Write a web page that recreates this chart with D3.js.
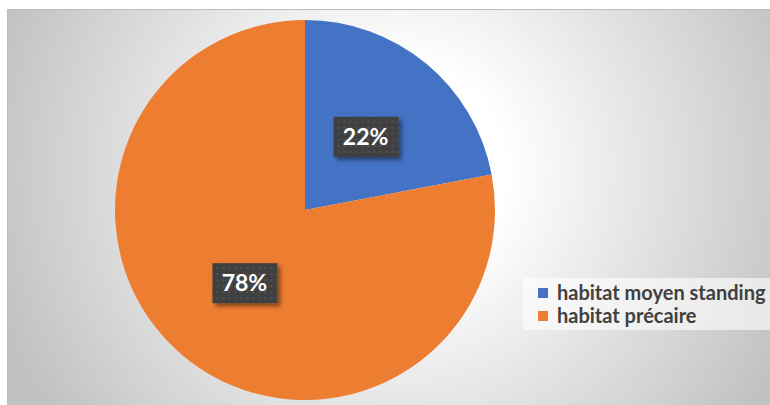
<!DOCTYPE html>
<html>
<head>
<meta charset="utf-8">
<script src="https://cdn.jsdelivr.net/npm/d3@7"></script>
<style>
  body { margin: 0; background: #fff; }
  svg { display: block; }
</style>
</head>
<body>
<div id="chart"></div>
<script>
// Data
var categories = ["habitat moyen standing", "habitat précaire"];
var shares = [22, 78];
var sliceLabels = ["22%", "78%"];
var colors = ["#4472c4", "#ed7d31"];

var width = 770, height = 405;

var svg = d3.select("#chart").append("svg")
    .attr("width", width)
    .attr("height", height);

var defs = svg.append("defs");

// Background gradient (white centre, grey edges)
var grad = defs.append("radialGradient")
    .attr("id", "bg")
    .attr("gradientUnits", "userSpaceOnUse")
    .attr("cx", 400).attr("cy", 170).attr("r", 420);
grad.append("stop").attr("offset", "0.25").attr("stop-color", "#ffffff");
grad.append("stop").attr("offset", "1").attr("stop-color", "#c2c2c2");

// Dotted pattern for the data label boxes
var pat = defs.append("pattern")
    .attr("id", "dots")
    .attr("patternUnits", "userSpaceOnUse")
    .attr("width", 6).attr("height", 6);
pat.append("rect").attr("width", 6).attr("height", 6).attr("fill", "#404040");
pat.append("rect").attr("x", 2).attr("y", 2).attr("width", 2).attr("height", 2).attr("fill", "#525252");

var shadow = defs.append("filter").attr("id", "shadow")
    .attr("x", "-20%").attr("y", "-20%").attr("width", "150%").attr("height", "160%");
shadow.append("feDropShadow")
    .attr("dx", 3).attr("dy", 3).attr("stdDeviation", 2)
    .attr("flood-color", "#000").attr("flood-opacity", 0.45);

// Chart area
svg.append("rect")
    .attr("x", 7.5).attr("y", 9.5)
    .attr("width", width).attr("height", height)
    .attr("fill", "url(#bg)")
    .attr("stroke", "#bdbdbd");

// Pie
var cx = 305, cy = 210, radius = 190;

var pie = d3.pie().sort(null).value(function(d){ return d; });
var arc = d3.arc().innerRadius(0).outerRadius(radius);

var arcs = pie(shares);

var g = svg.append("g").attr("transform", "translate(" + cx + "," + cy + ")");

g.selectAll("path.slice")
    .data(arcs)
    .enter().append("path")
    .attr("class", "slice")
    .attr("d", arc)
    .attr("fill", function(d, i){ return colors[i]; });

// Data labels
var labels = g.selectAll("g.label")
    .data(arcs)
    .enter().append("g")
    .attr("class", "label")
    .attr("transform", function(d){
        var c = arc.centroid(d);
        return "translate(" + c[0] + "," + c[1] + ")";
    });

labels.append("rect")
    .attr("x", -32).attr("y", -20)
    .attr("width", 65).attr("height", 40)
    .attr("fill", "url(#dots)")
    .attr("filter", "url(#shadow)");

labels.append("text")
    .attr("text-anchor", "middle")
    .attr("dy", "0.36em")
    .attr("fill", "#fff")
    .attr("font-family", "Lato, sans-serif")
    .attr("font-weight", "bold")
    .attr("font-size", 23)
    .text(function(d, i){ return sliceLabels[i]; });

// Legend
var legend = svg.append("g").attr("transform", "translate(523,278)");

legend.append("rect")
    .attr("width", 247).attr("height", 52)
    .attr("fill", "#fff").attr("fill-opacity", 0.6);

var items = legend.selectAll("g.item")
    .data(categories)
    .enter().append("g")
    .attr("class", "item")
    .attr("transform", function(d, i){ return "translate(15," + (10 + i * 23) + ")"; });

items.append("rect")
    .attr("width", 10).attr("height", 10)
    .attr("fill", function(d, i){ return colors[i]; });

items.append("text")
    .attr("x", 19).attr("y", 5)
    .attr("dy", "0.36em")
    .attr("fill", "#404040")
    .attr("font-family", "Lato, sans-serif")
    .attr("font-weight", "bold")
    .attr("font-size", 20)
    .text(function(d){ return d; });
</script>
</body>
</html>
